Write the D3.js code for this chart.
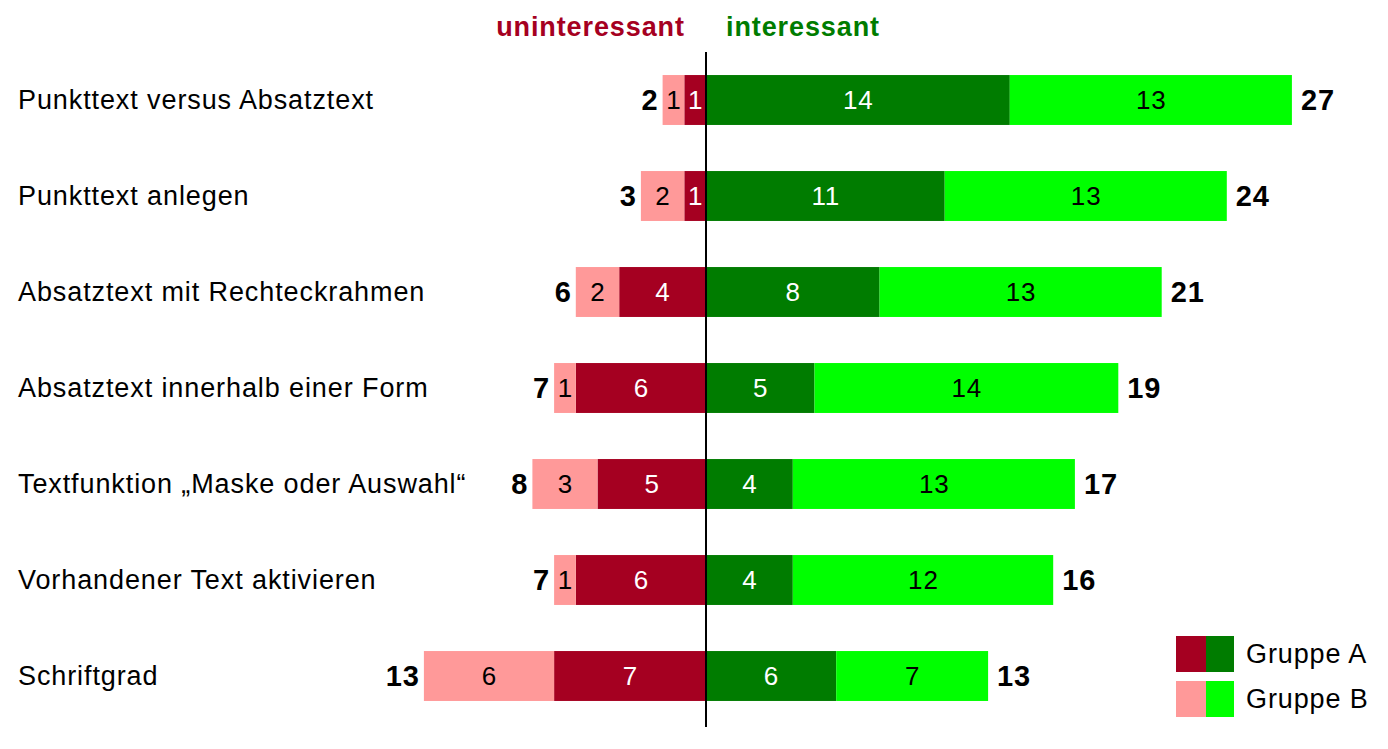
<!DOCTYPE html>
<html>
<head>
<meta charset="utf-8">
<script src="https://cdn.jsdelivr.net/npm/d3@7"></script>
<style>
  html, body { margin: 0; padding: 0; background: #fff; }
  svg { display: block; font-family: "Liberation Sans", Arial, sans-serif; }
</style>
</head>
<body>
<svg id="chart" width="1388" height="749"></svg>
<script>
// Topics rated by the two groups
const categories = [
  "Punkttext versus Absatztext",
  "Punkttext anlegen",
  "Absatztext mit Rechteckrahmen",
  "Absatztext innerhalb einer Form",
  "Textfunktion \u201EMaske oder Auswahl\u201C",
  "Vorhandener Text aktivieren",
  "Schriftgrad"
];
// "uninteressant" votes (drawn to the left of the axis)
const uninterestingA = [1, 1, 4, 6, 5, 6, 7];
const uninterestingB = [1, 2, 2, 1, 3, 1, 6];
// "interessant" votes (drawn to the right of the axis)
const interestingA = [14, 11, 8, 5, 4, 4, 6];
const interestingB = [13, 13, 13, 14, 13, 12, 7];

const groupNames = ["Gruppe A", "Gruppe B"];
const colors = {
  negA: "#A50021", negB: "#FF9999",
  posA: "#007C00", posB: "#00FF00"
};

const LS = 0.9; // letter spacing used for all text

const svg = d3.select("#chart");
const unit = 21.7;
const zeroX = 706;
const x = d3.scaleLinear().domain([-13, 27]).range([zeroX - 13 * unit, zeroX + 27 * unit]);
const y = d3.scaleBand().domain(categories).range([52, 724]).paddingInner(0.48).paddingOuter(0.24);

const rows = categories.map((c, i) => ({
  cat: c,
  segs: [
    { key: "negA", from: -uninterestingA[i], to: 0, v: uninterestingA[i], fill: colors.negA, text: "#fff" },
    { key: "negB", from: -(uninterestingA[i] + uninterestingB[i]), to: -uninterestingA[i], v: uninterestingB[i], fill: colors.negB, text: "#000" },
    { key: "posA", from: 0, to: interestingA[i], v: interestingA[i], fill: colors.posA, text: "#fff" },
    { key: "posB", from: interestingA[i], to: interestingA[i] + interestingB[i], v: interestingB[i], fill: colors.posB, text: "#000" }
  ],
  negTotal: uninterestingA[i] + uninterestingB[i],
  posTotal: interestingA[i] + interestingB[i]
}));

// Category labels
svg.append("g").selectAll("text").data(categories).join("text")
  .attr("x", 18)
  .attr("y", d => y(d) + y.bandwidth() / 2)
  .attr("dy", "0.35em")
  .attr("font-size", 27)
  .attr("letter-spacing", LS)
  .attr("fill", "#000")
  .text(d => d);

// Stacked segments
const rowG = svg.append("g").selectAll("g").data(rows).join("g")
  .attr("transform", d => `translate(0,${y(d.cat)})`);

rowG.selectAll("rect").data(d => d.segs).join("rect")
  .attr("x", d => x(d.from))
  .attr("width", d => x(d.to) - x(d.from))
  .attr("y", 0)
  .attr("height", y.bandwidth())
  .attr("fill", d => d.fill);

rowG.selectAll("text.seg").data(d => d.segs).join("text")
  .attr("class", "seg")
  .attr("x", d => (x(d.from) + x(d.to)) / 2 + LS / 2)
  .attr("y", y.bandwidth() / 2)
  .attr("dy", "0.35em")
  .attr("text-anchor", "middle")
  .attr("font-size", 26)
  .attr("letter-spacing", LS)
  .attr("fill", d => d.text)
  .text(d => d.v);

// Totals on both sides
rowG.append("text")
  .attr("x", d => x(-d.negTotal) - 5 + LS)
  .attr("y", y.bandwidth() / 2)
  .attr("dy", "0.35em")
  .attr("text-anchor", "end")
  .attr("font-size", 29)
  .attr("font-weight", "bold")
  .attr("letter-spacing", LS)
  .attr("fill", "#000")
  .text(d => d.negTotal);

rowG.append("text")
  .attr("x", d => x(d.posTotal) + 9)
  .attr("y", y.bandwidth() / 2)
  .attr("dy", "0.35em")
  .attr("font-size", 29)
  .attr("font-weight", "bold")
  .attr("letter-spacing", LS)
  .attr("fill", "#000")
  .text(d => d.posTotal);

// Centre axis
svg.append("line")
  .attr("x1", x(0)).attr("x2", x(0))
  .attr("y1", 52).attr("y2", 727)
  .attr("stroke", "#000").attr("stroke-width", 2);

// Side headings
svg.append("text")
  .attr("x", 684 + LS).attr("y", 36)
  .attr("text-anchor", "end")
  .attr("font-size", 27).attr("font-weight", "bold")
  .attr("letter-spacing", LS)
  .attr("fill", "#A50021")
  .text("uninteressant");
svg.append("text")
  .attr("x", 726).attr("y", 36)
  .attr("font-size", 27).attr("font-weight", "bold")
  .attr("letter-spacing", LS)
  .attr("fill", "#007C00")
  .text("interessant");

// Legend
const legend = svg.append("g").selectAll("g").data(groupNames).join("g")
  .attr("transform", (d, i) => `translate(1176,${636 + i * 45})`);
legend.append("rect").attr("width", 30).attr("height", 36)
  .attr("fill", (d, i) => i === 0 ? colors.negA : colors.negB);
legend.append("rect").attr("x", 30).attr("width", 28).attr("height", 36)
  .attr("fill", (d, i) => i === 0 ? colors.posA : colors.posB);
legend.append("text")
  .attr("x", 70).attr("y", 18).attr("dy", "0.35em")
  .attr("font-size", 27).attr("letter-spacing", LS).attr("fill", "#000")
  .text(d => d);
</script>
</body>
</html>
